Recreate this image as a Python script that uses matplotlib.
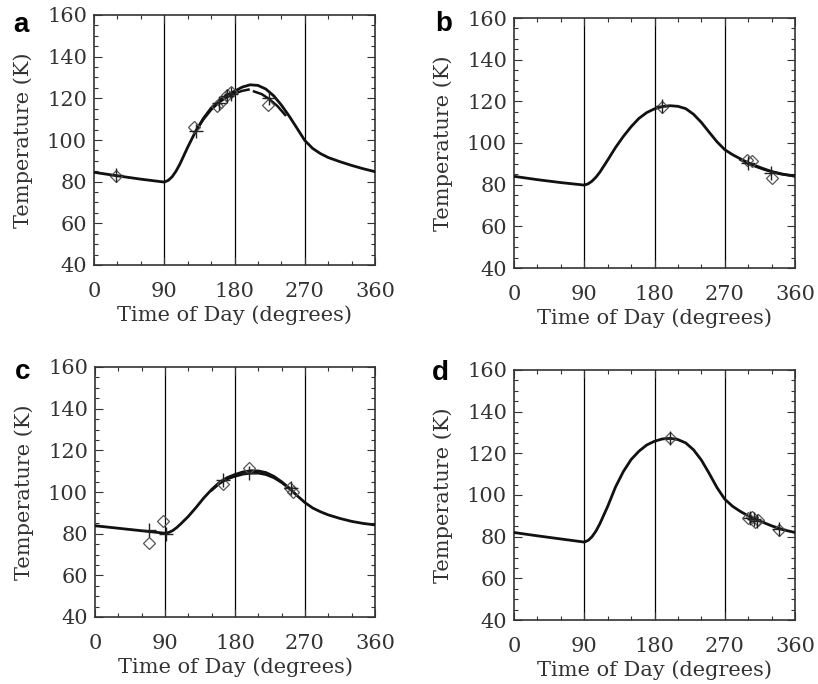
import matplotlib
matplotlib.use("Agg")
import matplotlib.pyplot as plt
from matplotlib.ticker import MultipleLocator

# ---- panel a ----
a_deg = [0, 30, 60, 90, 95, 100, 105, 110, 120, 130, 140, 150, 160, 170, 180, 190, 200, 210,
         220, 230, 240, 250, 260, 270, 280, 290, 300, 315, 330, 345, 360]
a_temp = [84.5, 82.8, 81.2, 79.8, 80.6, 82.3, 85.0, 88.4, 96.5, 104.0, 110.3, 115.3, 118.8, 121.5,
          123.4, 125.4, 126.5, 126.2, 124.5, 121.3, 116.8, 111.5, 105.7, 99.8, 96.0,
          93.5, 91.6, 89.6, 87.8, 86.2, 84.8]
a_fit1_deg = [130, 140, 150, 160, 170, 180, 190, 198]
a_fit1_temp = [104.0, 109.8, 114.5, 118.0, 120.5, 122.3, 123.6, 124.2]
a_fit2_deg = [205, 215, 225, 235, 245]
a_fit2_temp = [123.3, 122.0, 119.5, 116.3, 112.0]
a_obs_deg = [28, 128, 158, 163, 171, 175, 223]
a_obs_temp = [82.9, 106.4, 116.3, 118.0, 121.6, 123.0, 116.8]
a_mod_deg = [28, 131, 160, 170, 175, 224]
a_mod_temp = [83.3, 104.3, 117.8, 121.0, 122.0, 120.0]

# ---- panel b ----
b_deg = [0, 30, 60, 90, 95, 100, 105, 110, 120, 130, 140, 150, 160, 170, 180, 190, 200, 210,
         220, 230, 240, 250, 260, 270, 280, 290, 300, 315, 330, 345, 360]
b_temp = [84.0, 82.4, 81.0, 79.8, 80.4, 81.7, 83.6, 86.0, 91.8, 97.8, 103.1, 107.8, 111.8, 114.6,
          116.4, 117.5, 117.9, 117.6, 116.5, 113.8, 109.9, 105.2, 100.6, 96.8, 94.4,
          92.4, 90.5, 88.3, 86.3, 85.0, 84.2]
b_fit_deg = [290, 300, 320, 340, 360]
b_fit_temp = [92.0, 90.0, 87.3, 85.2, 84.0]
b_obs_deg = [189, 299, 305, 330]
b_obs_temp = [117.1, 91.7, 91.2, 83.0]
b_mod_deg = [189, 300, 329]
b_mod_temp = [117.6, 90.2, 85.6]

# ---- panel c ----
c_deg = [0, 30, 60, 90, 95, 100, 105, 110, 120, 130, 140, 150, 160, 170, 180, 190, 200, 210,
         220, 230, 240, 250, 260, 270, 280, 290, 300, 315, 330, 345, 360]
c_temp = [83.8, 82.6, 81.4, 80.2, 80.6, 81.5, 82.9, 84.6, 88.3, 92.6, 97.2, 101.2, 104.6, 106.9,
          108.4, 109.6, 110.2, 110.1, 109.3, 107.5, 104.9, 101.8, 98.2, 94.9, 92.3,
          90.5, 89.0, 87.3, 85.9, 84.9, 84.2]
c_fit_deg = [150, 160, 170, 180, 190, 200, 210, 220, 230, 240, 250]
c_fit_temp = [100.8, 104.0, 106.2, 107.5, 108.5, 109.0, 109.0, 108.3, 106.8, 104.5, 101.6]
c_obs_deg = [69, 88, 164, 198, 251, 254]
c_obs_temp = [75.7, 86.1, 103.7, 111.4, 102.1, 100.1]
c_mod_deg = [69, 91, 164, 198, 252]
c_mod_temp = [81.8, 80.0, 106.0, 109.0, 102.0]

# ---- panel d ----
d_deg = [0, 30, 60, 90, 95, 100, 105, 110, 120, 130, 140, 150, 160, 170, 180, 190, 200, 210,
         220, 230, 240, 250, 260, 270, 280, 290, 300, 315, 330, 345, 360]
d_temp = [82.0, 80.4, 78.9, 77.4, 78.2, 80.0, 82.7, 86.2, 94.5, 103.8, 111.2, 117.0, 121.0, 124.0,
          125.8, 126.9, 127.2, 126.6, 125.0, 121.7, 116.8, 110.4, 103.6, 98.0, 94.6,
          92.1, 90.0, 87.5, 85.2, 83.3, 82.0]
d_obs_deg = [200, 300, 305, 309, 313, 339]
d_obs_temp = [127.2, 88.8, 89.6, 87.2, 88.0, 83.2]
d_mod_deg = [200, 302, 307, 311, 339]
d_mod_temp = [127.4, 89.0, 88.4, 87.6, 83.6]

letters = ["a", "b", "c", "d"]
xticks = [0, 90, 180, 270, 360]
yticks = [40, 60, 80, 100, 120, 140, 160]

W, H = 818, 684
plt.rcParams["font.family"] = ["DejaVu Serif"]

fig = plt.figure(figsize=(W / 100, H / 100), dpi=100)

# axes boxes in pixels: left, top, right, bottom
boxes = [(94, 15, 375, 265), (514, 18, 795, 268), (95, 367, 375, 617), (514, 370, 795, 620)]
letter_pos = [(13, 32), (435, 31), (15, 379), (432, 380)]

panels = [
    (a_deg, a_temp, [(a_fit1_deg, a_fit1_temp), (a_fit2_deg, a_fit2_temp)],
     a_obs_deg, a_obs_temp, a_mod_deg, a_mod_temp),
    (b_deg, b_temp, [(b_fit_deg, b_fit_temp)], b_obs_deg, b_obs_temp, b_mod_deg, b_mod_temp),
    (c_deg, c_temp, [(c_fit_deg, c_fit_temp)], c_obs_deg, c_obs_temp, c_mod_deg, c_mod_temp),
    (d_deg, d_temp, [], d_obs_deg, d_obs_temp, d_mod_deg, d_mod_temp),
]

ink = "#333333"

for i, (deg, temp, fits, od, ot, md, mt) in enumerate(panels):
    l, t, r, b = boxes[i]
    ax = fig.add_axes([l / W, 1 - b / H, (r - l) / W, (b - t) / H])
    for xv in (90, 180, 270):
        ax.axvline(xv, color="black", lw=0.9, zorder=1)
    ax.plot(deg, temp, color="#111111", lw=2.0, solid_capstyle="round",
            solid_joinstyle="round", zorder=3)
    for fd, ft in fits:
        ax.plot(fd, ft, color="#111111", lw=1.8, zorder=3)
    ax.plot(od, ot, linestyle="none", marker="D", ms=6.5, mfc="none",
            mec="#555555", mew=0.9, zorder=4)
    ax.plot(md, mt, linestyle="none", marker="+", ms=10, mec="#222222",
            mew=1.0, zorder=5)

    ax.set_xlim(0, 360)
    ax.set_ylim(40, 160)
    ax.set_xticks(xticks)
    ax.set_yticks(yticks)
    ax.xaxis.set_minor_locator(MultipleLocator(30))
    ax.yaxis.set_minor_locator(MultipleLocator(5))
    ax.tick_params(which="both", direction="in", top=True, right=True, colors=ink)
    ax.tick_params(which="major", length=6, width=0.8, labelsize=15)
    ax.tick_params(which="minor", length=3, width=0.8)
    ax.tick_params(axis="x", which="major", pad=12)
    ax.tick_params(axis="y", which="major", pad=5)
    for s in ax.spines.values():
        s.set_linewidth(1.2)
        s.set_color("#333333")
    ax.set_xlabel("Time of Day (degrees)", fontsize=15, color=ink, labelpad=3)
    ax.set_ylabel("Temperature (K)", fontsize=15, color=ink, labelpad=10)

    lx, ly = letter_pos[i]
    fig.text(lx / W, 1 - ly / H, letters[i], fontsize=20, fontweight="bold",
             family="Liberation Sans", ha="left", va="baseline", color="black")

fig.savefig("out.png", dpi=100)
